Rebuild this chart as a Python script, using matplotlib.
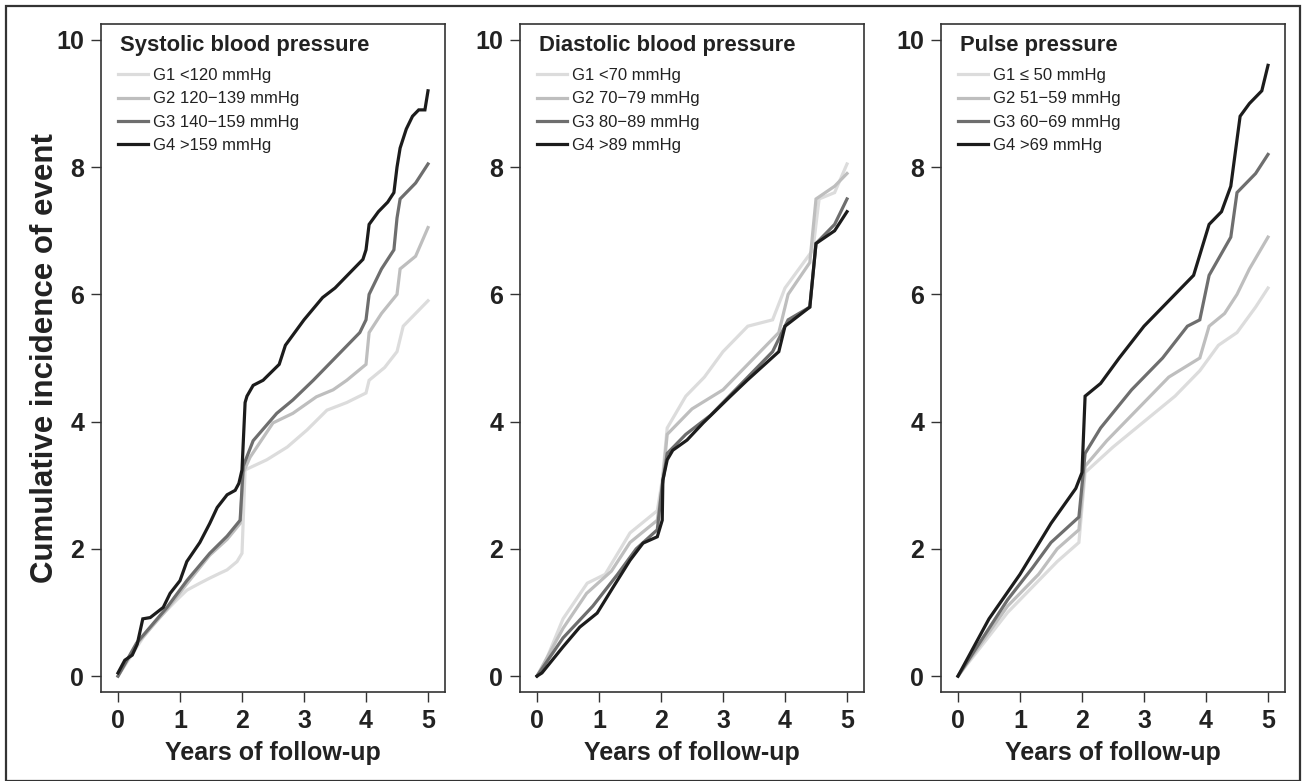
import matplotlib
matplotlib.use("Agg")
import matplotlib.pyplot as plt
from matplotlib.patches import Rectangle

plt.rcParams['font.family'] = ['Liberation Sans', 'DejaVu Sans']

# datos: (años, incidencia acumulada)
sys_g1_t = [0, 0.2, 0.4, 0.6, 0.79, 0.95, 1.11, 1.32, 1.48, 1.65, 1.76, 1.92, 2.0, 2.05, 2.18, 2.4, 2.73, 3.05, 3.37, 3.69, 4.0, 4.05, 4.3, 4.5, 4.6, 4.8, 5.0]
sys_g1_v = [0, 0.3, 0.6, 0.85, 1.04, 1.2, 1.35, 1.46, 1.54, 1.62, 1.67, 1.8, 1.93, 3.24, 3.3, 3.4, 3.6, 3.87, 4.18, 4.3, 4.45, 4.65, 4.85, 5.1, 5.5, 5.7, 5.9]
sys_g2_t = [0, 0.3, 0.79, 1.11, 1.48, 1.76, 1.97, 2.02, 2.13, 2.5, 2.82, 3.2, 3.47, 3.69, 4.0, 4.05, 4.25, 4.5, 4.55, 4.8, 5.0]
sys_g2_v = [0, 0.5, 1.05, 1.45, 1.9, 2.15, 2.4, 3.2, 3.44, 3.98, 4.13, 4.39, 4.5, 4.65, 4.9, 5.4, 5.7, 6.0, 6.4, 6.6, 7.05]
sys_g3_t = [0, 0.3, 0.79, 1.11, 1.48, 1.76, 1.97, 2.02, 2.18, 2.56, 2.82, 3.15, 3.5, 3.9, 4.0, 4.05, 4.25, 4.45, 4.5, 4.55, 4.8, 5.0]
sys_g3_v = [0, 0.52, 1.08, 1.5, 1.93, 2.2, 2.45, 3.3, 3.7, 4.13, 4.34, 4.65, 5.0, 5.4, 5.6, 6.0, 6.4, 6.7, 7.2, 7.5, 7.75, 8.05]
sys_g4_t = [0, 0.11, 0.23, 0.31, 0.40, 0.52, 0.73, 0.84, 1.0, 1.11, 1.32, 1.48, 1.60, 1.76, 1.89, 1.95, 2.0, 2.05, 2.08, 2.18, 2.34, 2.6, 2.7, 3.0, 3.3, 3.5, 3.75, 3.95, 4.0, 4.05, 4.2, 4.35, 4.45, 4.5, 4.55, 4.65, 4.75, 4.85, 4.95, 5.0]
sys_g4_v = [0.05, 0.25, 0.33, 0.5, 0.9, 0.92, 1.08, 1.3, 1.5, 1.8, 2.1, 2.4, 2.65, 2.85, 2.92, 3.03, 3.24, 4.3, 4.4, 4.57, 4.65, 4.9, 5.2, 5.6, 5.95, 6.1, 6.35, 6.55, 6.7, 7.1, 7.3, 7.45, 7.6, 8.0, 8.3, 8.6, 8.8, 8.9, 8.9, 9.2]

dia_g1_t = [0, 0.1, 0.42, 0.81, 1.1, 1.5, 1.94, 2.02, 2.1, 2.4, 2.7, 3.0, 3.4, 3.8, 4.0, 4.3, 4.45, 4.55, 4.8, 5.0]
dia_g1_v = [0, 0.14, 0.9, 1.46, 1.6, 2.25, 2.6, 3.08, 3.9, 4.4, 4.7, 5.1, 5.5, 5.6, 6.1, 6.5, 6.7, 7.5, 7.6, 8.05]
dia_g2_t = [0, 0.42, 0.8, 1.2, 1.5, 1.94, 2.02, 2.1, 2.5, 3.0, 3.5, 3.9, 4.05, 4.4, 4.5, 4.8, 5.0]
dia_g2_v = [0, 0.75, 1.3, 1.65, 2.1, 2.45, 3.0, 3.8, 4.2, 4.5, 5.0, 5.4, 6.0, 6.5, 7.5, 7.7, 7.9]
dia_g3_t = [0, 0.42, 0.9, 1.3, 1.6, 1.94, 2.02, 2.1, 2.4, 2.8, 3.3, 3.8, 4.05, 4.4, 4.5, 4.8, 5.0]
dia_g3_v = [0, 0.6, 1.1, 1.6, 2.0, 2.3, 3.0, 3.5, 3.8, 4.1, 4.6, 5.1, 5.6, 5.8, 6.8, 7.1, 7.5]
dia_g4_t = [0, 0.08, 0.42, 0.69, 0.97, 1.23, 1.5, 1.71, 1.94, 2.02, 2.03, 2.1, 2.19, 2.42, 2.68, 3.11, 3.39, 3.9, 4.0, 4.4, 4.5, 4.8, 5.0]
dia_g4_v = [0, 0.05, 0.46, 0.77, 0.99, 1.4, 1.82, 2.09, 2.19, 2.45, 3.08, 3.4, 3.55, 3.71, 3.98, 4.39, 4.65, 5.1, 5.5, 5.8, 6.8, 7.0, 7.3]

pp_g1_t = [0, 0.8, 1.2, 1.6, 1.95, 2.05, 2.5, 3.0, 3.5, 3.9, 4.2, 4.5, 4.8, 5.0]
pp_g1_v = [0, 1.0, 1.4, 1.8, 2.1, 3.2, 3.6, 4.0, 4.4, 4.8, 5.2, 5.4, 5.8, 6.1]
pp_g2_t = [0, 0.8, 1.3, 1.6, 1.95, 2.05, 2.4, 2.9, 3.4, 3.9, 4.05, 4.3, 4.5, 4.7, 5.0]
pp_g2_v = [0, 1.1, 1.6, 2.0, 2.3, 3.3, 3.7, 4.2, 4.7, 5.0, 5.5, 5.7, 6.0, 6.4, 6.9]
pp_g3_t = [0, 0.8, 1.2, 1.5, 1.95, 2.05, 2.3, 2.8, 3.3, 3.7, 3.9, 4.05, 4.4, 4.5, 4.8, 5.0]
pp_g3_v = [0, 1.2, 1.7, 2.1, 2.5, 3.5, 3.9, 4.5, 5.0, 5.5, 5.6, 6.3, 6.9, 7.6, 7.9, 8.2]
pp_g4_t = [0, 0.5, 1.0, 1.5, 1.9, 2.0, 2.05, 2.3, 2.6, 3.0, 3.5, 3.8, 4.05, 4.25, 4.4, 4.55, 4.7, 4.9, 5.0]
pp_g4_v = [0, 0.9, 1.6, 2.4, 2.95, 3.2, 4.4, 4.6, 5.0, 5.5, 6.0, 6.3, 7.1, 7.3, 7.7, 8.8, 9.0, 9.2, 9.6]

titulos = ['Systolic blood pressure', 'Diastolic blood pressure', 'Pulse pressure']
etiquetas = [
    ['G1 <120 mmHg', 'G2 120\u2212139 mmHg', 'G3 140\u2212159 mmHg', 'G4 >159 mmHg'],
    ['G1 <70 mmHg', 'G2 70\u221279 mmHg', 'G3 80\u221289 mmHg', 'G4 >89 mmHg'],
    ['G1 \u2264 50 mmHg', 'G2 51\u221259 mmHg', 'G3 60\u221269 mmHg', 'G4 >69 mmHg'],
]
series = [
    [(sys_g1_t, sys_g1_v), (sys_g2_t, sys_g2_v), (sys_g3_t, sys_g3_v), (sys_g4_t, sys_g4_v)],
    [(dia_g1_t, dia_g1_v), (dia_g2_t, dia_g2_v), (dia_g3_t, dia_g3_v), (dia_g4_t, dia_g4_v)],
    [(pp_g1_t, pp_g1_v), (pp_g2_t, pp_g2_v), (pp_g3_t, pp_g3_v), (pp_g4_t, pp_g4_v)],
]
colores = ['#dcdcdc', '#bebebe', '#6e6e6e', '#1c1c1c']

fig = plt.figure(figsize=(13.03, 7.81), dpi=100)

# marco exterior
fig.patches.append(Rectangle((6 / 1303, 0.0), 1294 / 1303, 1 - 6 / 781,
                             transform=fig.transFigure, fill=False,
                             edgecolor='#333333', linewidth=1.6))

lefts = [101, 520, 941]
for i in range(3):
    ax = fig.add_axes([lefts[i] / 1303, 1 - 692 / 781, 344 / 1303, 668 / 781])
    for (t, v), c, lab in zip(series[i], colores, etiquetas[i]):
        ax.plot(t, v, color=c, linewidth=2.3, label=lab,
                solid_joinstyle='miter')
    ax.set_xlim(-0.274, 5.274)
    ax.set_ylim(-0.25, 10.25)
    ax.set_xticks(range(0, 6))
    ax.set_yticks([0, 2, 4, 6, 8, 10])
    ax.tick_params(direction='out', length=7, width=1, pad=5,
                   labelsize=18, color='#333333')
    for lbl in ax.get_xticklabels() + ax.get_yticklabels():
        lbl.set_fontweight('bold')
        lbl.set_color('#222222')
    for s in ax.spines.values():
        s.set_linewidth(1.2)
        s.set_color('#333333')
    ax.set_xlabel('Years of follow-up', fontsize=18, fontweight='bold',
                  color='#222222', labelpad=6)
    # titulo del panel
    ax.text(19 / 344, 1 - 22 / 668, titulos[i], transform=ax.transAxes,
            fontsize=15.8, fontweight='bold', color='#222222',
            ha='left', va='center')
    leg = ax.legend(loc='upper left', frameon=False,
                    fontsize=12, handlelength=1.8, handletextpad=0.3,
                    labelspacing=0.5, borderaxespad=0, borderpad=0,
                    bbox_to_anchor=(17 / 344, 1 - 44 / 668))
    for txt in leg.get_texts():
        txt.set_color('#222222')
    if i == 0:
        ax.set_ylabel('Cumulative incidence of event', fontsize=22.5,
                      fontweight='bold', color='#222222')
        ax.yaxis.set_label_coords(-0.12, 0.5)

fig.savefig('out.png', dpi=100)
